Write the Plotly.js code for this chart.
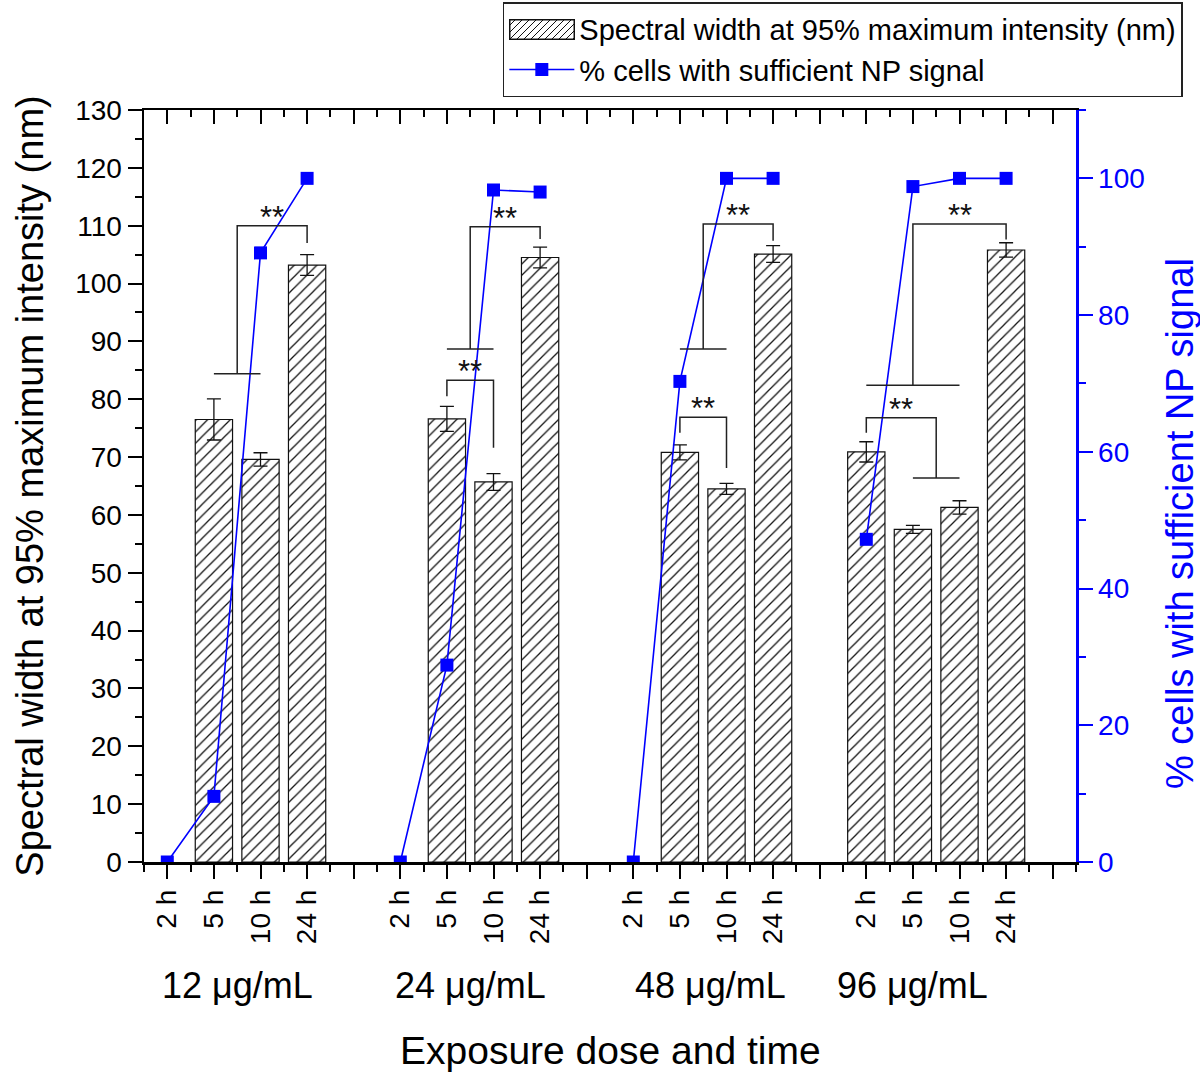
<!DOCTYPE html>
<html>
<head>
<meta charset="utf-8">
<script src="https://cdn.plot.ly/plotly-3.0.1.min.js"></script>
<style>html,body{margin:0;padding:0;background:#fff;}#chart{width:1200px;height:1072px;}</style>
</head>
<body>
<div id="chart"></div>
<script>
// ---- data ----
const times = ['2 h', '5 h', '10 h', '24 h'];
const doses = ['12 μg/mL', '24 μg/mL', '48 μg/mL', '96 μg/mL'];

// spectral width at 95% maximum intensity (nm), left axis
const width12 = [null, 76.5, 69.6, 103.2];
const width24 = [null, 76.6, 65.7, 104.5];
const width48 = [null, 70.8, 64.5, 105.1];
const width96 = [70.9, 57.5, 61.3, 105.8];
// error bars
const err12 = [null, 3.55, 1.15, 1.8];
const err24 = [null, 2.15, 1.45, 1.8];
const err48 = [null, 1.3, 0.95, 1.45];
const err96 = [1.75, 0.7, 1.15, 1.25];
// % cells with sufficient NP signal, right axis
const cells12 = [0, 9.6, 89.1, 100];
const cells24 = [0, 28.8, 98.3, 98.0];
const cells48 = [0, 70.3, 100, 100];
const cells96 = [47.2, 98.8, 100, 100];

// significance brackets (slot indices along the axis, values on the left axis)
const brackets = [
  {from: [1, 2], fromY: 84.4, to: 3, toY: 107.0, top: 110.0},
  {from: 6, fromY: 80.5, to: 7, toY: 71.6, top: 83.3},
  {from: [6, 7], fromY: 88.7, to: 8, toY: 107.7, top: 109.8},
  {from: 11, fromY: 74.2, to: 12, toY: 68.1, top: 76.9},
  {from: [11, 12], fromY: 88.7, to: 13, toY: 107.4, top: 110.3},
  {from: 15, fromY: 74.2, to: [16, 17], toY: 66.4, top: 76.8},
  {from: [15, 17], fromY: 82.4, to: 18, toY: 107.6, top: 110.3}
];
const doseLabelPos = [1.5, 6.5, 11.65, 16.0];

const barName = 'Spectral width at 95% maximum intensity (nm)';
const lineName = '% cells with sufficient NP signal';

// ---- build ----
const widths = [width12, width24, width48, width96];
const errs = [err12, err24, err48, err96];
const cells = [cells12, cells24, cells48, cells96];
const slotsPerDose = times.length + 1;

const barX = [], barY = [], barE = [], lineX = [], lineY = [];
const tickVals = [], tickText = [];
doses.forEach((d, g) => {
  times.forEach((t, i) => {
    const p = g * slotsPerDose + i;
    barX.push(p); barY.push(widths[g][i]); barE.push(errs[g][i]);
    lineX.push(p); lineY.push(cells[g][i]);
    tickVals.push(p); tickText.push(t);
  });
  const gap = g * slotsPerDose + times.length;
  lineX.push(gap); lineY.push(null);
  tickVals.push(gap); tickText.push('');
});

const FONT = 'Liberation Sans, Arial, sans-serif';
const BLUE = '#0000ff';

const traces = [
  { // legend entry for the bars (swatch drawn as image below)
    type: 'scatter', mode: 'lines', x: [null], y: [null], name: barName,
    line: {color: 'rgba(0,0,0,0)'}, hoverinfo: 'skip'
  },
  {
    type: 'bar', x: barX, y: barY, width: 0.8, name: barName, showlegend: false,
    marker: {color: 'white', line: {color: '#111', width: 1.2},
             pattern: {shape: '/', fgcolor: '#111', bgcolor: 'white', size: 8, solidity: 0.16}},
    error_y: {type: 'data', array: barE, visible: true, color: '#111', thickness: 1.3, width: 7},
    xaxis: 'x', yaxis: 'y'
  },
  {
    type: 'scatter', mode: 'lines+markers', x: lineX, y: lineY, connectgaps: false,
    name: lineName,
    line: {color: BLUE, width: 1.6},
    marker: {symbol: 'square', size: 13, color: BLUE},
    xaxis: 'x', yaxis: 'y2'
  },
  {
    type: 'scatter', mode: 'markers', x: [0], y: [null], xaxis: 'x2', yaxis: 'y',
    showlegend: false, hoverinfo: 'skip'
  }
];

const shapes = [], annotations = [];
const mid = v => Array.isArray(v) ? (v[0] + v[1]) / 2 : v;
const lineStyle = {color: '#222', width: 1.5};
brackets.forEach(b => {
  const fx = mid(b.from), tx = mid(b.to);
  shapes.push({type: 'path', xref: 'x', yref: 'y', layer: 'above', line: lineStyle,
    path: `M${fx},${b.fromY} L${fx},${b.top} L${tx},${b.top} L${tx},${b.toY}`});
  if (Array.isArray(b.from)) shapes.push({type: 'line', xref: 'x', yref: 'y', layer: 'above', line: lineStyle,
    x0: b.from[0], x1: b.from[1], y0: b.fromY, y1: b.fromY});
  if (Array.isArray(b.to)) shapes.push({type: 'line', xref: 'x', yref: 'y', layer: 'above', line: lineStyle,
    x0: b.to[0], x1: b.to[1], y0: b.toY, y1: b.toY});
  annotations.push({x: (fx + tx) / 2, y: b.top, xref: 'x', yref: 'y', text: '**', showarrow: false,
    yanchor: 'bottom', yshift: -11, font: {family: FONT, size: 31, color: '#111'}});
});
doses.forEach((d, g) => {
  annotations.push({x: doseLabelPos[g], y: -0.1636, xref: 'x', yref: 'paper', text: d, showarrow: false,
    yanchor: 'middle', font: {family: FONT, size: 36, color: '#000'}});
});
annotations.push({x: 0.5, y: -0.25, xref: 'paper', yref: 'paper', text: 'Exposure dose and time', showarrow: false,
  yanchor: 'middle', font: {family: FONT, size: 39, color: '#000'}});
annotations.push({x: 1.1116, y: 0.4495, xref: 'paper', yref: 'paper', text: lineName, showarrow: false,
  textangle: -90, xanchor: 'center', yanchor: 'middle', font: {family: FONT, size: 38, color: BLUE}});

// hatched legend swatch
const swatchSvg = '<svg xmlns="http://www.w3.org/2000/svg" width="66" height="21" viewBox="0 0 66 21">' +
  '<defs><pattern id="h" width="7" height="7" patternUnits="userSpaceOnUse">' +
  '<path d="M-1,1 L1,-1 M0,7 L7,0 M6,8 L8,6" stroke="#111" stroke-width="1"/></pattern></defs>' +
  '<rect x="0.75" y="0.75" width="64.5" height="19.5" fill="white"/>' +
  '<rect x="0.75" y="0.75" width="64.5" height="19.5" fill="url(#h)" stroke="#111" stroke-width="1.5"/></svg>';
const images = [{
  source: 'data:image/svg+xml;charset=utf-8,' + encodeURIComponent(swatchSvg),
  xref: 'paper', yref: 'paper', x: (509 - 144) / 932, y: 1 + (110 - 19) / 752,
  sizex: 66 / 932, sizey: 21 / 752, xanchor: 'left', yanchor: 'top', sizing: 'stretch', layer: 'above'
}];

const xCommon = {
  range: [-0.5, 19.5], tickmode: 'array', tickvals: tickVals, ticktext: tickText,
  showline: true, linecolor: '#000', linewidth: 2.5, tickcolor: '#000', tickwidth: 2, ticklen: 14,
  minor: {tickmode: 'linear', tick0: 0.5, dtick: 1, ticklen: 7, tickwidth: 2, tickcolor: '#000'},
  showgrid: false, zeroline: false, fixedrange: true
};

const layout = {
  width: 1200, height: 1072,
  margin: {l: 144, r: 124, t: 110, b: 210, autoexpand: false},
  paper_bgcolor: 'white', plot_bgcolor: 'white',
  font: {family: FONT, color: '#000'},
  showlegend: true,
  legend: {x: 0.385, y: 1.1436, xanchor: 'left', yanchor: 'top', bgcolor: 'rgba(0,0,0,0)',
           bordercolor: '#222', borderwidth: 1.5, font: {family: FONT, size: 29, color: '#000'},
           itemwidth: 65, tracegroupgap: 0, traceorder: 'normal'},
  xaxis: Object.assign({}, xCommon, {
    ticks: 'outside', tickangle: -90, tickfont: {family: FONT, size: 28, color: '#000'},
    minor: Object.assign({}, xCommon.minor, {ticks: 'outside'})
  }),
  xaxis2: Object.assign({}, xCommon, {
    overlaying: 'x', side: 'top', anchor: 'y', ticks: 'inside', showticklabels: false,
    minor: Object.assign({}, xCommon.minor, {ticks: 'inside'})
  }),
  yaxis: {
    range: [0, 130], dtick: 10, tick0: 0, ticks: 'outside', ticklen: 14, tickwidth: 2, tickcolor: '#000',
    showline: true, linecolor: '#000', linewidth: 2.5, showgrid: false, zeroline: false,
    minor: {dtick: 5, ticks: 'outside', ticklen: 7, tickwidth: 2, tickcolor: '#000'},
    tickfont: {family: FONT, size: 28, color: '#000'},
    title: {text: barName, font: {family: FONT, size: 38, color: '#000'}, standoff: 20},
    fixedrange: true
  },
  yaxis2: {
    range: [0, 110], dtick: 20, tick0: 0, overlaying: 'y', side: 'right', anchor: 'x',
    ticks: 'outside', ticklen: 14, tickwidth: 2, tickcolor: BLUE,
    showline: true, linecolor: BLUE, linewidth: 2.5, showgrid: false, zeroline: false,
    minor: {dtick: 10, ticks: 'outside', ticklen: 7, tickwidth: 2, tickcolor: BLUE},
    tickfont: {family: FONT, size: 28, color: BLUE},
    fixedrange: true
  },
  shapes: shapes,
  annotations: annotations,
  images: images
};

Plotly.newPlot('chart', traces, layout, {staticPlot: true, displayModeBar: false});
</script>
</body>
</html>
